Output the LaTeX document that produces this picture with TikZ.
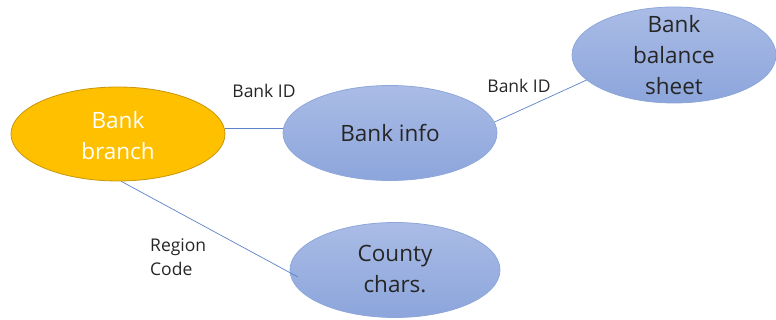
\documentclass[tikz,border=0pt]{standalone}
\usepackage{fontspec}
\setmainfont{Open Sans}
\usetikzlibrary{shapes.geometric,calc}
\definecolor{gold}{HTML}{FFC000}
\definecolor{goldb}{HTML}{C8960A}
\definecolor{blueA}{HTML}{AABCE6}
\definecolor{blueB}{HTML}{8CA5DB}
\definecolor{blueE}{HTML}{8EA7DA}
\definecolor{lineB}{HTML}{5B82C8}
\definecolor{txtD}{HTML}{262626}
\tikzset{
  orangeell/.style={ellipse, draw=goldb, line width=0.8pt, fill=gold, inner sep=0pt},
  blueell/.style={ellipse, draw=blueE, line width=0.8pt, top color=blueA, bottom color=blueB, inner sep=0pt},
  bigtxt/.style={align=center, font=\fontsize{22.5}{31}\selectfont, inner sep=0pt},
  lbl/.style={align=left, font=\fontsize{17.5}{23.5}\selectfont, text=txtD, inner sep=0pt},
  conn/.style={draw=lineB, line width=0.7pt}
}
\begin{document}
\begin{tikzpicture}[x=1pt,y=-1pt]
\useasboundingbox (0,0) rectangle (776,320);
\node[orangeell, minimum width=214pt, minimum height=94pt] (branch) at (118,134) {};
\node[blueell, minimum width=214pt, minimum height=95pt] (info) at (390,133) {};
\node[blueell, minimum width=204pt, minimum height=96pt] (sheet) at (674,55) {};
\node[blueell, minimum width=210pt, minimum height=95pt] (county) at (395,270) {};
\node[bigtxt, text=white] (branchT) at (118,136) {Bank\\branch};
\node[bigtxt, text=txtD] (infoT) at (390,133) {Bank info};
\node[bigtxt, text=txtD] (sheetT) at (674,55) {Bank\\balance\\sheet};
\node[bigtxt, text=txtD] (countyT) at (395,269) {County\\chars.};
\coordinate (rcend) at (298,277);
\draw[conn] (branch.3) -- (branch.3 -| info.west);
\draw[conn] (info.6) -- (sheet.196);
\draw[conn] (branch.-86) -- (rcend);
\node[lbl, anchor=center] (l1) at (264,91) {Bank ID};
\node[lbl, anchor=center] (l2) at (519,86) {Bank ID};
\node[lbl, anchor=west] (l3) at (150,257) {Region\\Code};
\end{tikzpicture}
\end{document}
